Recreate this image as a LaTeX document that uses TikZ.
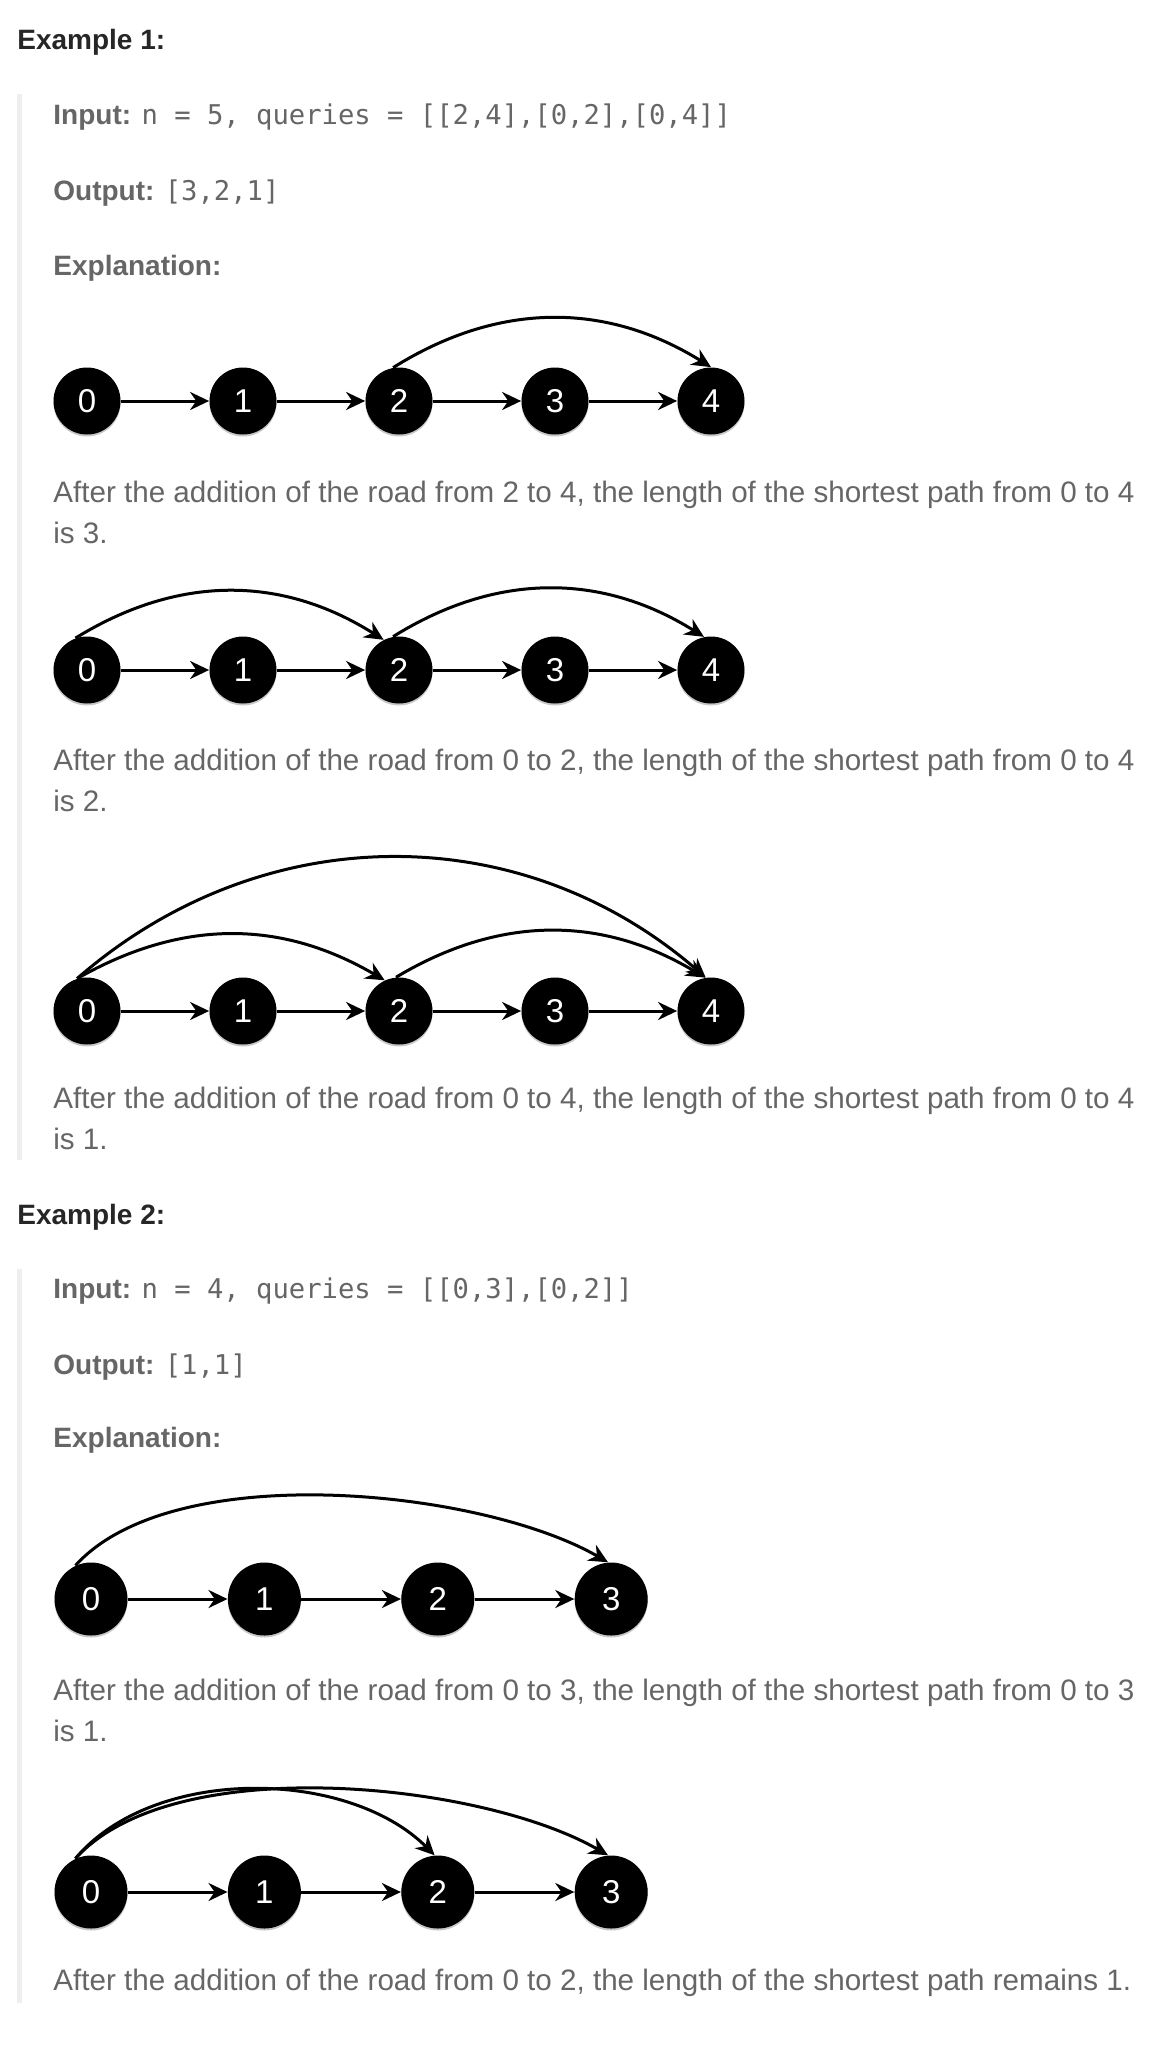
\documentclass[tikz,border=0pt]{standalone}
\usepackage{fontspec}
\setmainfont{Liberation Sans}
\setsansfont{Liberation Sans}
\setmonofont{DejaVu Sans Mono}
\usetikzlibrary{arrows.meta,positioning,shadows}
\definecolor{headcolor}{HTML}{262626}
\definecolor{textgray}{HTML}{666666}
\definecolor{bargray}{HTML}{EEEEEE}
\newcommand{\codetext}[1]{{\ttfamily\fontsize{13.6}{17}\selectfont #1}}

\begin{document}
\begin{tikzpicture}[x=0.5pt,y=0.5pt,>={Stealth[length=9.5pt,width=9pt]},
	road/.style={->,line width=1.5pt},
	city/.style={circle,fill=black,text=white,inner sep=0pt,minimum size=33.5pt,
		font=\sffamily\fontsize{16.5}{16.5}\selectfont,
		drop shadow={shadow xshift=0pt,shadow yshift=-1pt,fill=black!22,opacity=1}},
	big city/.style={city,minimum size=36.5pt},
	heading/.style={anchor=base west,inner sep=0pt,text=headcolor,font=\bfseries\fontsize{14}{17}\selectfont},
	field/.style={anchor=base west,inner sep=0pt,text=textgray,font=\fontsize{14}{17}\selectfont},
	note/.style={anchor=base west,inner sep=0pt,text=textgray,font=\fontsize{14.8}{20.5}\selectfont}]
	\fill[white] (0,0) rectangle (1160,-2050);
	\useasboundingbox (0,0) rectangle (1160,-2050);

	% Example 1
	\node[heading] (ex1) at (17,-50) {Example 1:};
	\fill[bargray] (17,-94) rectangle (22,-1160);
	\node[field] (in1) at (53,-125) {\textbf{Input:} \codetext{n = 5, queries = [[2,4],[0,2],[0,4]]}};
	\node[field] (out1) at (53,-200) {\textbf{Output:} \codetext{[3,2,1]}};
	\node[field] (expl1) at (53,-275) {\textbf{Explanation:}};

	\begin{scope}[node distance=78pt]
		\node[city] (a0) at (87,-401) {0};
		\node[city,right of=a0] (a1) {1};
		\node[city,right of=a1] (a2) {2};
		\node[city,right of=a2] (a3) {3};
		\node[city,right of=a3] (a4) {4};

		\node[city] (b0) at (87,-670) {0};
		\node[city,right of=b0] (b1) {1};
		\node[city,right of=b1] (b2) {2};
		\node[city,right of=b2] (b3) {3};
		\node[city,right of=b3] (b4) {4};

		\node[city] (c0) at (87,-1011) {0};
		\node[city,right of=c0] (c1) {1};
		\node[city,right of=c1] (c2) {2};
		\node[city,right of=c2] (c3) {3};
		\node[city,right of=c3] (c4) {4};
	\end{scope}

	\path[road]
	(a0) edge (a1)
	(a1) edge (a2)
	(a2) edge (a3)
	(a3) edge (a4)
	(a2.100) edge [bend left=32] (a4.90);

	\path[road]
	(b0) edge (b1)
	(b1) edge (b2)
	(b2) edge (b3)
	(b3) edge (b4)
	(b0.110) edge [bend left=32] (b2.117)
	(b2.100) edge [bend left=32] (b4.102);

	\path[road]
	(c0) edge (c1)
	(c1) edge (c2)
	(c2) edge (c3)
	(c3) edge (c4)
	(c0.107) edge [bend left=41] (c4.99)
	(c0.107) edge [bend left=30] (c2.115)
	(c2.95) edge [bend left=31] (c4.100);

	\node[note] (t1a) at (53,-502) {After the addition of the road from 2 to 4, the length of the shortest path from 0 to 4};
	\node[note] (t1b) at (53,-543) {is 3.};
	\node[note] (t2a) at (53,-770) {After the addition of the road from 0 to 2, the length of the shortest path from 0 to 4};
	\node[note] (t2b) at (53,-811) {is 2.};
	\node[note] (t3a) at (53,-1108) {After the addition of the road from 0 to 4, the length of the shortest path from 0 to 4};
	\node[note] (t3b) at (53,-1149) {is 1.};

	% Example 2
	\node[heading] (ex2) at (17,-1224) {Example 2:};
	\fill[bargray] (17,-1269) rectangle (22,-2003);
	\node[field] (in2) at (53,-1298) {\textbf{Input:} \codetext{n = 4, queries = [[0,3],[0,2]]}};
	\node[field] (out2) at (53,-1374) {\textbf{Output:} \codetext{[1,1]}};
	\node[field] (expl2) at (53,-1447) {\textbf{Explanation:}};

	\begin{scope}[node distance=86.7pt]
		\node[big city] (d0) at (91,-1599) {0};
		\node[big city,right of=d0] (d1) {1};
		\node[big city,right of=d1] (d2) {2};
		\node[big city,right of=d2] (d3) {3};

		\node[big city] (e0) at (91,-1892) {0};
		\node[big city,right of=e0] (e1) {1};
		\node[big city,right of=e1] (e2) {2};
		\node[big city,right of=e2] (e3) {3};
	\end{scope}

	\path[road]
	(d0) edge (d1)
	(d1) edge (d2)
	(d2) edge (d3)
	(d0.115) edge [out=48,in=150,looseness=0.7] (d3.95);

	\path[road]
	(e0) edge (e1)
	(e1) edge (e2)
	(e2) edge (e3)
	(e0.115) edge [out=48,in=150,looseness=0.7] (e3.95)
	(e0.115) edge [out=50,in=135,looseness=0.87] (e2.95);

	\node[note] (t4a) at (53,-1700) {After the addition of the road from 0 to 3, the length of the shortest path from 0 to 3};
	\node[note] (t4b) at (53,-1741) {is 1.};
	\node[note] (t5) at (53,-1990) {After the addition of the road from 0 to 2, the length of the shortest path remains 1.};
\end{tikzpicture}
\end{document}
